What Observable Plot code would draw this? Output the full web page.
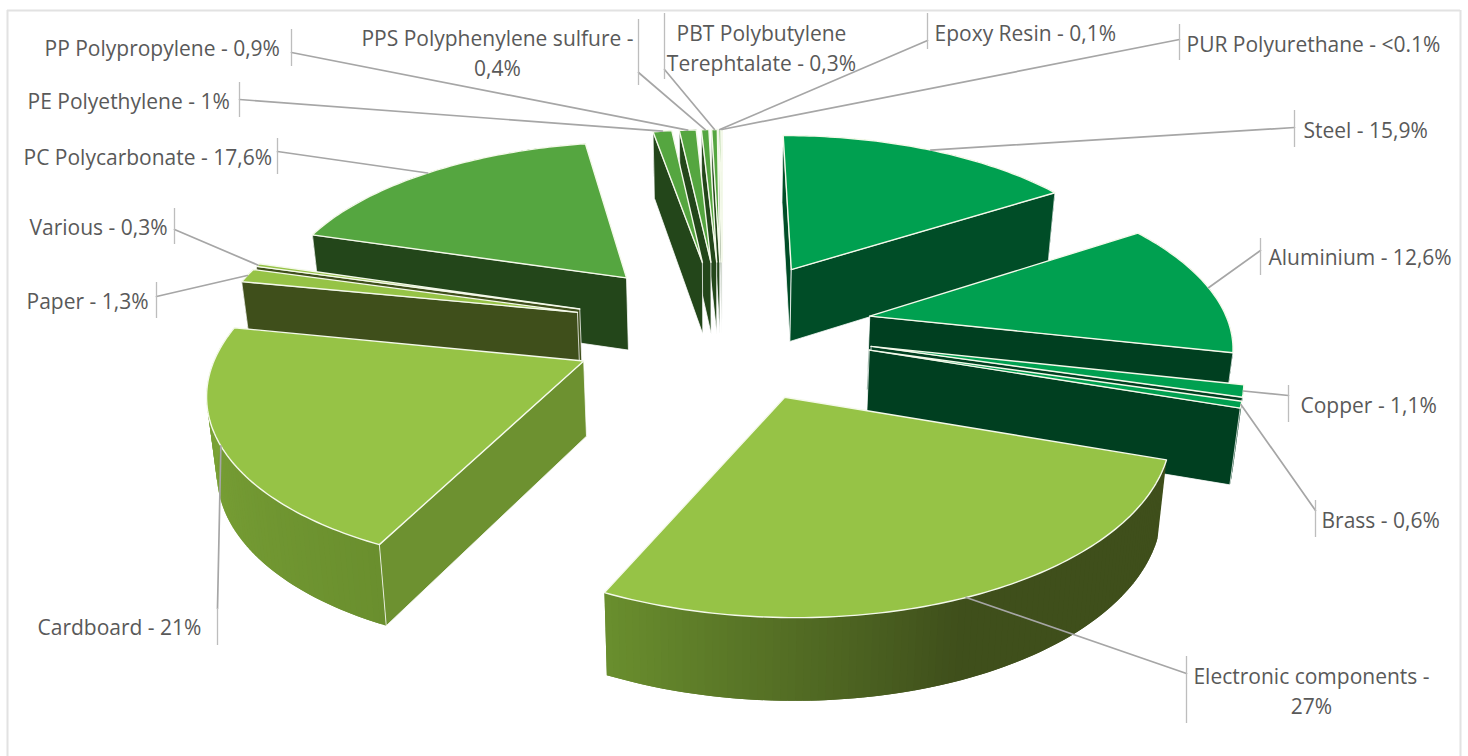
<!DOCTYPE html>
<html>
<head>
<meta charset="utf-8">
<style>html,body{margin:0;padding:0;background:#fff;overflow:hidden}svg{display:block}</style>
<script src="https://cdn.jsdelivr.net/npm/d3@7"></script>
<script src="https://cdn.jsdelivr.net/npm/@observablehq/plot@0.6"></script>
</head>
<body>
<div id="chart"></div>
<script>
// ---- data -------------------------------------------------------------
const materials = ["Steel","Aluminium","Copper","Brass","Electronic components","Cardboard","Paper","Various","PC Polycarbonate","PE Polyethylene","PP Polypropylene","PPS Polyphenylene sulfure","PBT Polybutylene Terephtalate","Epoxy Resin","PUR Polyurethane"];
const shares = [15.9,12.6,1.1,0.6,27,21,1.3,0.3,17.6,1,0.9,0.4,0.3,0.1,0.05];
const labels = ["Steel - 15,9%","Aluminium - 12,6%","Copper - 1,1%","Brass - 0,6%","Electronic components -\n27%","Cardboard - 21%","Paper - 1,3%","Various - 0,3%","PC Polycarbonate - 17,6%","PE Polyethylene - 1%","PP Polypropylene - 0,9%","PPS Polyphenylene sulfure -\n0,4%","PBT Polybutylene\nTerephtalate - 0,3%","Epoxy Resin - 0,1%","PUR Polyurethane - <0.1%"];

// ---- style ------------------------------------------------------------
const topColors  = ["#00a050","#00a050","#00a050","#00a050","#96c346","#96c346","#96c346","#96c346","#55a640","#55a640","#55a640","#55a640","#55a640","#55a640","#55a640"];
const wallColors = ["#004d27","#003f20","#003f20","#003f20","#3f4f1b","#6d9130","#3f4f1b","#3f4f1b","#23461a","#23461a","#23461a","#23461a","#23461a","#23461a","#23461a"];
const rampedSlices = ["Electronic components","Cardboard"];
const rimRamp = d3.scaleLinear().domain([100,158,206,290]).range(["#3f4f1b","#3f4f1b","#6a8f2e","#82ab3a"]);

// ---- camera: pie plane to picture ---------------------------------------
const cam = {cx:722, cy:328, A:360, B:168, k:0.14, explode:0.42, depth:74, depthK:0.08, taper:0.98};
const project = (X, Y) => {
  const w = 1 + cam.k * Y;
  return {x: cam.cx + cam.A * X / w, y: cam.cy - cam.B * Y / w};
};
const drop = (p, Y) => ({
  x: cam.cx + (p.x - cam.cx) * cam.taper,
  y: p.y + cam.depth / (1 + cam.depthK * Y)
});

// ---- slices ------------------------------------------------------------
const total = d3.sum(shares);
let running = 0;
const slices = materials.map((name, i) => {
  const a0 = running / total * 360;
  running += shares[i];
  const a1 = running / total * 360;
  const mid = (a0 + a1) / 2 * Math.PI / 180;
  const ox = cam.explode * Math.sin(mid), oy = cam.explode * Math.cos(mid);
  const rim = deg => {
    const t = deg * Math.PI / 180;
    return {X: ox + Math.sin(t), Y: oy + Math.cos(t), deg};
  };
  const n = Math.max(2, Math.ceil((a1 - a0) / 1));
  const arc = d3.range(n + 1).map(j => rim(a0 + (a1 - a0) * j / n));
  return {i, name, a0, a1, ox, oy, arc, rimMid: rim((a0 + a1) / 2), far: Math.cos(mid)};
});
const P = q => project(q.X, q.Y);
const B = q => drop(P(q), q.Y);
const cross = (a, b, o) => (a.x - o.x) * (b.y - o.y) - (a.y - o.y) * (b.x - o.x);

const marks = [];
const poly = (pts, o) => marks.push(Plot.line(pts, {x:"x", y:"y", curve:"linear", ...o}));

// frame
const frameLeft = 7, frameRight = 1460, frameTop = 10, frameBottom = 756;
marks.push(Plot.ruleX([frameLeft, frameRight], {y1:frameTop, y2:frameBottom, stroke:"#e2e2e2", strokeWidth:2}));
marks.push(Plot.ruleY([frameTop], {x1:frameLeft, x2:frameRight, stroke:"#e2e2e2", strokeWidth:2}));

// far slices first
for (const s of d3.sort(slices, d => -d.far)) {
  const fill = topColors[s.i], wall = wallColors[s.i];
  const apex = {X: s.ox, Y: s.oy};
  const ramped = rampedSlices.includes(s.name);
  const last = s.arc.length - 1;
  // outer wall as narrow strips; each one reaches over the next to hide seams
  for (let j = 0; j < last; j++) {
    const a = s.arc[j], b = s.arc[Math.min(j + 2, last)];
    const c = ramped ? rimRamp(s.arc[j].deg + 0.5) : wall;
    poly([P(a), P(b), B(b), B(a)], {fill:c});
  }
  // cut walls that face the viewer
  const inner = P(s.rimMid), A0 = P(apex);
  for (const e of [s.arc[0], s.arc[last]]) {
    const pe = P(e), be = B(e);
    const dropVec = {x: A0.x + be.x - pe.x, y: A0.y + be.y - pe.y};
    if (cross(pe, dropVec, A0) * cross(pe, inner, A0) < 0) {
      const pts = [A0, pe, be, B(apex)];
      poly([...pts, pts[0]], {fill:wall, stroke:"#ffffff", strokeWidth:0.9, strokeOpacity:0.85});
    }
  }
  // top face
  poly([A0, ...s.arc.map(P), A0], {fill, stroke:"#f4f9ea", strokeWidth:1.4});
}

// ---- callouts (layout of the hand-placed labels) ------------------------
const labelX   = [1303,1268,1300,1321,1311,37,26,29,23,27,44,497,761,934,1186];
const labelY   = [130,257,405,520,691,627,301,227,157,101,48,53,48,33,44];
const startAnchored = [0,1,2,3,5,6,7,8,9,10,13,14];
const middleAnchored = [4,11,12];
const tickX    = [1294,1260,1288,1315,1186,217,156,174,277,239,291,638,664,927,1179];
const tickTop  = [110,238,385,500,656,608,282,208,138,82,29,19,13,13,24];
const tickEnd  = [147,275,422,537,723,645,318,244,174,117,66,85,79,49,60];
const tickJoin = [127,250,395,510,673,608,296,229,151,99,52,72,69,40,39];

const callouts = slices.map(s => {
  const from = P(s.rimMid);
  return [from, {x:tickX[s.i], y:tickJoin[s.i]}].map(p => ({...p, i:s.i}));
}).flat();
marks.push(Plot.line(callouts, {x:"x", y:"y", z:"i", stroke:"#a6a6a6", strokeWidth:1.7}));
marks.push(Plot.ruleX(d3.range(materials.length), {x:i => tickX[i], y1:i => tickTop[i], y2:i => tickEnd[i], stroke:"#bdbdbd", strokeWidth:1.3}));
const textStyle = {
  x:i => labelX[i], y:i => labelY[i], text:i => labels[i], dy:-2,
  lineAnchor:"middle", lineHeight:1.43,
  fontFamily:"'Open Sans', sans-serif", fontSize:21, fill:"#595959"
};
marks.push(Plot.text(startAnchored, {...textStyle, textAnchor:"start"}));
marks.push(Plot.text(middleAnchored, {...textStyle, textAnchor:"middle"}));

document.getElementById("chart").appendChild(Plot.plot({
  width:1468, height:756, margin:0,
  x:{domain:[0,1468], range:[0,1468], axis:null},
  y:{domain:[0,756], range:[0,756], axis:null},
  style:{background:"#fff", overflow:"hidden"},
  marks
}));
</script>
</body>
</html>
